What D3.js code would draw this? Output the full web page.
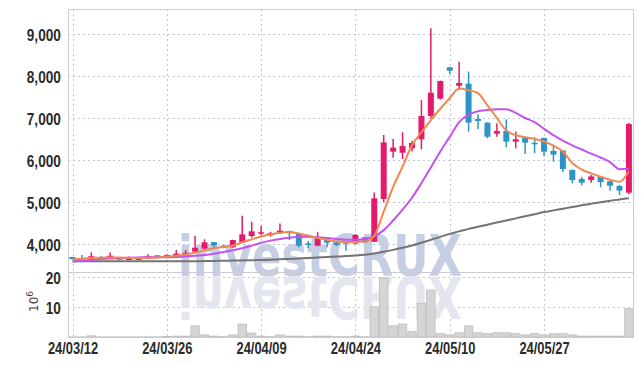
<!DOCTYPE html>
<html>
<head>
<meta charset="utf-8">
<script src="https://cdn.jsdelivr.net/npm/d3@7"></script>
<style>
  body { margin: 0; background: #fff; }
  .tick text { font-family: "Liberation Sans", Arial, sans-serif; font-weight: bold; font-size: 17px; fill: #2a2a2a; }
</style>
</head>
<body>
<div id="chart"></div>
<script>
// Data
const dates = ['24/03/12','24/03/13','24/03/14','24/03/15','24/03/18','24/03/19','24/03/20','24/03/21','24/03/22','24/03/25',
  '24/03/26','24/03/27','24/03/28','24/03/29','24/04/01','24/04/02','24/04/03','24/04/04','24/04/05','24/04/08',
  '24/04/09','24/04/11','24/04/12','24/04/15','24/04/16','24/04/17','24/04/18','24/04/19','24/04/22','24/04/23',
  '24/04/24','24/04/25','24/04/26','24/04/29','24/04/30','24/05/02','24/05/03','24/05/07','24/05/08','24/05/09',
  '24/05/10','24/05/13','24/05/14','24/05/16','24/05/17','24/05/20','24/05/21','24/05/22','24/05/23','24/05/24',
  '24/05/27','24/05/28','24/05/29','24/05/30','24/05/31','24/06/03','24/06/04','24/06/05','24/06/07','24/06/10'];

const openPrice = [3690,3660,3640,3680,3670,3665,3640,3630,3650,3730, 3675,3710,3730,3817,3890,4045,3960,3920,4040,4190,
  4255,4205,4255,4310,4240,4015,3960,4155,4030,4045, 4015,4160,4055,5070,6198,6174,6278,6493,7048,7460,
  8207,7769,7817,6976,6890,6626,6690,6436,6535,6410, 6524,6214,6222,5762,5548,5524,5595,5493,5381,5222];
const highPrice = [3695,3740,3800,3720,3800,3670,3700,3670,3755,3735, 3750,3857,3857,4197,4110,4050,3980,4100,4674,4530,
  4435,4290,4490,4315,4250,4070,4280,4160,4050,4060, 4240,4165,5226,6595,6500,6660,6460,7430,9135,7890,
  8210,8340,8107,7088,6895,6874,6970,6674,6540,6540, 6530,6330,6230,5770,5600,5640,5600,5500,5405,6880];
const lowPrice = [3635,3620,3630,3640,3660,3610,3610,3625,3645,3680, 3670,3705,3725,3810,3880,3900,3900,3910,4030,4150,
  4200,4180,4240,4095,3920,3900,3950,3925,3950,3840, 3995,4035,4050,4993,6055,6024,6200,6255,6990,7440,
  8048,7667,6674,6730,6517,6555,6302,6278,6143,6160, 6090,5960,5714,5445,5395,5460,5350,5270,5165,5190];
const closePrice = [3640,3645,3710,3670,3720,3625,3655,3655,3710,3685, 3740,3770,3793,3912,4040,3965,3915,4095,4230,4300,
  4280,4260,4317,4255,3960,4000,4155,4030,3975,4035, 4215,4040,5088,6420,6293,6333,6405,7048,7602,7881,
  8126,7833,6890,6930,6555,6690,6436,6493,6412,6400, 6198,6127,5786,5524,5460,5610,5476,5389,5270,6857];

// volume, in millions
const volume = [0.05,0.05,0.4,0.05,0.05,0.05,0.05,0.05,0.05,0.05, 0.2,0.3,0.3,3.7,0.7,0.3,0.1,0.7,4.3,1.3,
  0.3,0.1,0.7,0.3,0.3,0.1,0.3,0.3,0.1,0.1, 0.3,0.1,10.0,19.7,3.7,4.3,1.8,11.2,15.6,1.1,
  0.7,1.4,3.7,1.4,1.1,1.4,1.4,1.1,0.7,1.1, 0.7,1.1,1.1,0.7,0.3,0.3,0.3,0.3,0.3,9.4];

// moving averages as drawn
const maShort = [3630,3650,3670,3675,3680,3678,3670,3665,3670,3680, 3700,3720,3750,3790,3850,3900,3930,3960,4040,4110,
  4180,4230,4270,4285,4250,4200,4140,4100,4060,4050, 4050,4060,4200,4770,5360,5840,6350,6660,6950,7220,
  7470,7700,7660,7590,7300,7000,6700,6590,6540,6500, 6440,6340,6200,5930,5770,5680,5600,5530,5480,5730];
const maMid = [3580,3600,3620,3640,3655,3665,3675,3680,3683,3685, 3685,3690,3700,3720,3740,3770,3810,3850,3900,3960,
  4030,4080,4120,4150,4165,4170,4160,4140,4120,4100, 4100,4120,4180,4330,4560,4820,5100,5450,5820,6200,
  6550,6900,7080,7160,7190,7210,7210,7120,7000,6900, 6740,6590,6460,6350,6250,6150,6060,5950,5780,5790];
const maLong = [3590,3590,3590,3590,3589,3588,3588,3587,3587,3587, 3587,3587,3588,3590,3593,3596,3600,3604,3608,3613,
  3618,3625,3635,3645,3655,3665,3677,3688,3700,3712, 3726,3745,3775,3815,3860,3910,3965,4030,4100,4170,
  4240,4300,4360,4410,4460,4510,4560,4610,4660,4710, 4760,4800,4840,4880,4920,4960,4995,5030,5060,5090];

const priceTicks = [4000, 5000, 6000, 7000, 8000, 9000];
const volTicks = [10, 20];
const labelDates = ['24/03/12','24/03/26','24/04/09','24/04/24','24/05/10','24/05/27'];

// Layout
const W = 642, H = 366;
const plotLeft = 68, plotRight = 633, plotTop = 9, split = 272, plotBottom = 337;
const upColor = '#e41b6c', downColor = '#2e94c8';

const svg = d3.select('#chart').append('svg')
  .attr('width', W)
  .attr('height', H);

// Scales
const x = d3.scalePoint()
  .domain(dates)
  .range([72.5, 628.9]);
const step = x.step();

const y = d3.scaleLinear()
  .domain([3333, 9595])
  .range([split, plotTop]);

const yVol = d3.scaleLinear()
  .domain([0, 21.6])
  .range([plotBottom, split]);

// Gridlines
const grid = svg.append('g').attr('stroke', '#c0c7dc').attr('stroke-dasharray', '2,3').attr('stroke-width', 1);
grid.selectAll('.hg').data(priceTicks).enter().append('line')
  .attr('x1', plotLeft).attr('x2', plotRight)
  .attr('y1', d => Math.round(y(d)) + 0.5).attr('y2', d => Math.round(y(d)) + 0.5);
grid.selectAll('.vg').data(volTicks).enter().append('line')
  .attr('x1', plotLeft).attr('x2', plotRight)
  .attr('y1', d => Math.round(yVol(d)) + 0.5).attr('y2', d => Math.round(yVol(d)) + 0.5);
grid.selectAll('.xg').data(labelDates).enter().append('line')
  .attr('x1', d => Math.round(x(d)) + 0.5).attr('x2', d => Math.round(x(d)) + 0.5)
  .attr('y1', plotTop).attr('y2', plotBottom);

// watermark + its mirror image
const wm = svg.append('g')
  .style('font-family', '"DejaVu Sans", sans-serif')
  .style('font-weight', 'bold')
  .style('font-size', '57px');
wm.append('text')
  .attr('x', 178).attr('y', 276)
  .attr('textLength', 284).attr('lengthAdjust', 'spacingAndGlyphs')
  .attr('fill', '#c6cee3')
  .text('investCRUX');
wm.append('text')
  .attr('x', 178).attr('y', 276)
  .attr('transform', 'translate(0,553) scale(1,-1)')
  .attr('textLength', 284).attr('lengthAdjust', 'spacingAndGlyphs')
  .attr('fill', '#e3e6ee')
  .text('investCRUX');

// Volume bars
svg.append('g').selectAll('rect')
  .data(volume)
  .enter()
  .append('rect')
    .attr('x', (d, i) => x(dates[i]) - step / 2 + 0.5)
    .attr('width', step - 1)
    .attr('y', d => yVol(d))
    .attr('height', d => plotBottom - yVol(d))
    .attr('fill', '#d5d5d5')
    .attr('stroke', '#bdbdbd')
    .attr('stroke-width', 0.8);

// Frame
const frame = svg.append('g').attr('stroke', '#c9ccd6').attr('fill', 'none');
frame.append('rect').attr('x', plotLeft + 0.5).attr('y', plotTop + 0.5)
  .attr('width', plotRight - plotLeft).attr('height', plotBottom - plotTop);
frame.append('line').attr('x1', plotLeft).attr('x2', plotRight)
  .attr('y1', split + 0.5).attr('y2', split + 0.5);

// Candles
const candles = svg.append('g').selectAll('g')
  .data(dates)
  .enter()
  .append('g')
  .attr('transform', d => `translate(${ x(d) },0)`);

candles.append('line')
  .attr('y1', (d, i) => y(highPrice[i]))
  .attr('y2', (d, i) => y(lowPrice[i]))
  .attr('stroke', (d, i) => closePrice[i] >= openPrice[i] ? upColor : downColor)
  .attr('stroke-width', 1.5);

candles.append('rect')
  .attr('x', -3)
  .attr('width', 6)
  .attr('y', (d, i) => y(Math.max(openPrice[i], closePrice[i])))
  .attr('height', (d, i) => Math.max(1.5, Math.abs(y(openPrice[i]) - y(closePrice[i]))))
  .attr('fill', (d, i) => closePrice[i] >= openPrice[i] ? upColor : downColor);

// Moving averages
const line = d3.line()
  .x((d, i) => x(dates[i]))
  .y(d => y(d))
  .curve(d3.curveMonotoneX);

[[maLong, '#747474'], [maMid, '#c452ee'], [maShort, '#f0884f']].forEach(function(s) {
  svg.append('path')
    .datum(s[0])
    .attr('d', line)
    .attr('fill', 'none')
    .attr('stroke', s[1])
    .attr('stroke-width', 2);
});

// Axes (labels squeezed to mimic the narrow face)
const yAxis = d3.axisLeft(y)
  .tickValues(priceTicks)
  .tickFormat(d3.format(','))
  .tickSize(0)
  .tickPadding(4);
svg.append('g')
  .attr('transform', `translate(${ plotLeft },0)`)
  .call(yAxis)
  .call(g => g.select('.domain').remove())
  .call(g => g.selectAll('.tick text').attr('transform', 'translate(-4,1) scale(0.8,1)'));

const volAxis = d3.axisLeft(yVol)
  .tickValues(volTicks)
  .tickSize(0)
  .tickPadding(4);
svg.append('g')
  .attr('transform', `translate(${ plotLeft },0)`)
  .call(volAxis)
  .call(g => g.select('.domain').remove())
  .call(g => g.selectAll('.tick text').attr('transform', 'translate(-4,1) scale(0.8,1)'));

const xAxis = d3.axisBottom(x)
  .tickValues(labelDates)
  .tickSize(0)
  .tickPadding(5);
svg.append('g')
  .attr('transform', `translate(0, ${ plotBottom })`)
  .call(xAxis)
  .call(g => g.select('.domain').remove())
  .call(g => g.selectAll('.tick text').attr('transform', 'scale(0.76,1)'));

// unit label
const unit = svg.append('text')
  .attr('transform', 'translate(38, 312) rotate(-90)')
  .attr('fill', '#444')
  .style('font-family', '"DejaVu Sans", sans-serif')
  .style('font-size', '12px');
unit.append('tspan').text('10');
unit.append('tspan').attr('dy', -5).style('font-size', '9px').text('6');
</script>
</body>
</html>
